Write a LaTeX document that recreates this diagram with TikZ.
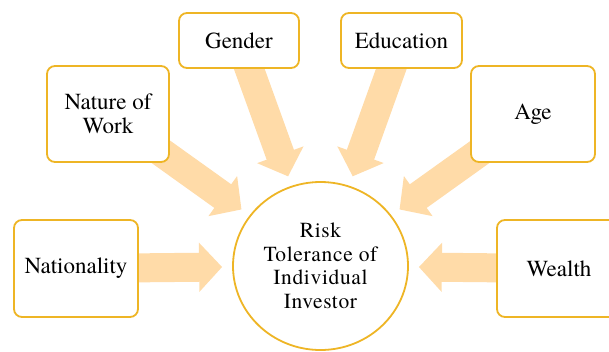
\documentclass[tikz,border=0pt]{standalone}
\usepackage{fontspec}
\setmainfont{texgyretermes-regular.otf}
\usetikzlibrary{arrows.meta,shapes.geometric,backgrounds}
\definecolor{gold}{HTML}{EEB525}
\definecolor{peach}{HTML}{FFDBA8}
\begin{document}
\begin{tikzpicture}[x=1pt,y=-1pt,
  factor/.style={draw=gold,line width=1.8pt,rounded corners=8pt,fill=white,
    inner sep=0pt,align=center,font=\rmfamily\fontsize{23}{24}\selectfont},
  core/.style={ellipse,draw=gold,line width=1.8pt,fill=white,inner sep=0pt,
    minimum width=175pt,minimum height=168pt,align=center,
    font=\rmfamily\fontsize{21.5}{23.5}\selectfont\addfontfeature{LetterSpace=3}},
  fat/.style={draw=peach,line width=29pt,line cap=butt,
    -{Triangle[width=48pt,length=23pt]},shorten >=10pt}]
\useasboundingbox (0,0) rectangle (609,351);
\node[core] (risk) at (320.5,266) {Risk\\Tolerance of\\Individual\\Investor};
\node[factor,minimum width=122pt,minimum height=96pt] (work) at (108,114) {Nature of\\Work};
\node[factor,minimum width=120pt,minimum height=55pt] (gender) at (239,40.5) {Gender};
\node[factor,minimum width=121pt,minimum height=55pt] (edu) at (401.5,40.5) {Education};
\node[factor,minimum width=124pt,minimum height=96pt] (age) at (533,114) {Age};
\node[factor,minimum width=124pt,minimum height=97pt] (nat) at (76,268.5) {Nationality};
\node[factor,minimum width=124pt,minimum height=97pt] (wealth) at (559,268.5) {Wealth};
\begin{scope}[on background layer]
  \foreach \src in {work,gender,edu,age,nat,wealth}
    \draw[fat] (\src.center) -- (risk);
\end{scope}
\end{tikzpicture}
\end{document}
